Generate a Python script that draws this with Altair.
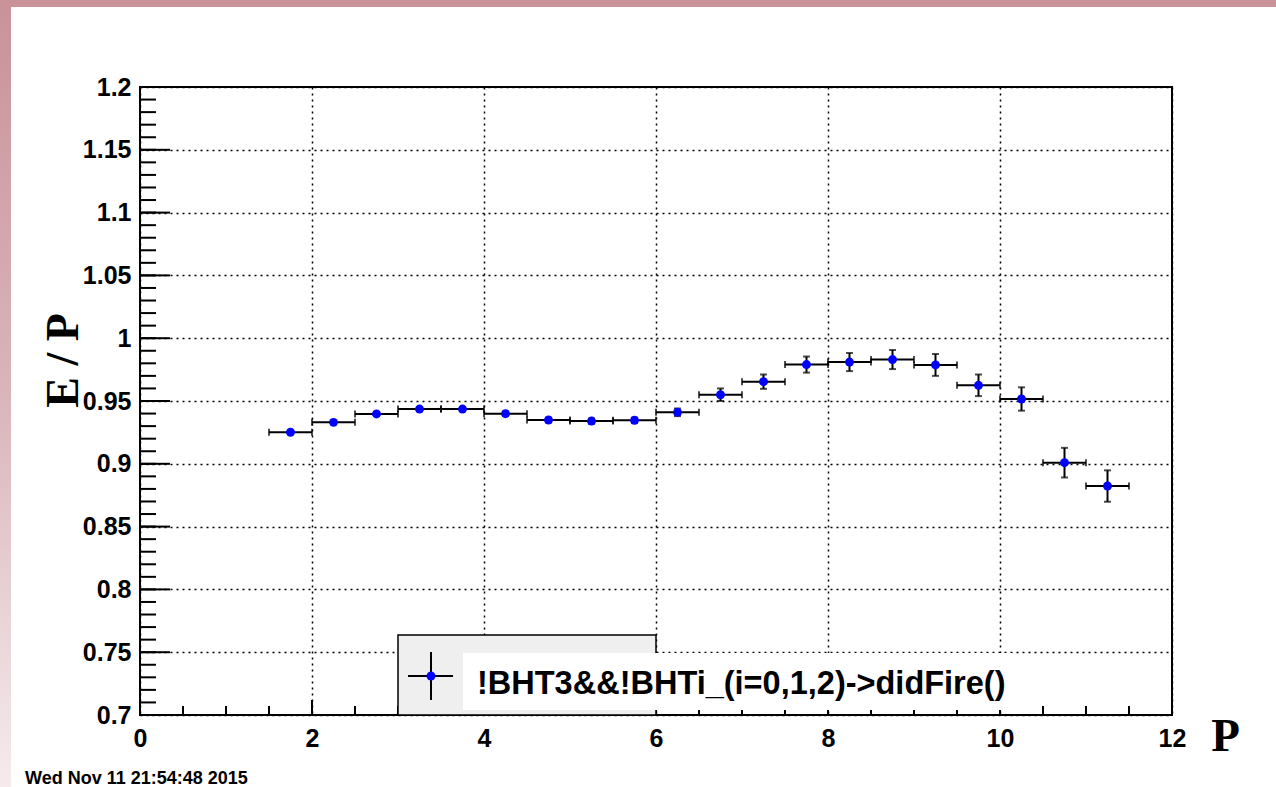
import altair as alt
import pandas as pd

# Bin centres of P (bins 0.5 wide) and the mean E/P in each bin
p_centers = [1.75, 2.25, 2.75, 3.25, 3.75, 4.25, 4.75, 5.25, 5.75, 6.25,
             6.75, 7.25, 7.75, 8.25, 8.75, 9.25, 9.75, 10.25, 10.75, 11.25]
ep_values = [0.9251, 0.9330, 0.9397, 0.9436, 0.9436, 0.9399, 0.9349, 0.9340, 0.9346, 0.9410,
             0.9550, 0.9654, 0.9790, 0.9810, 0.9830, 0.9787, 0.9625, 0.9516, 0.9009, 0.8823]
ep_errors = [0.0012, 0.0013, 0.0014, 0.0015, 0.0016, 0.0017, 0.0018, 0.0020, 0.0022, 0.0030,
             0.0050, 0.0057, 0.0064, 0.0072, 0.0076, 0.0087, 0.0086, 0.0093, 0.0118, 0.0125]
half_bin = 0.25

# Axis divisions
x_major = [0, 2, 4, 6, 8, 10, 12]
x_minor = [v / 2 for v in range(0, 25)]
y_major = [round(0.7 + 0.05 * i, 2) for i in range(11)]
y_minor = [round(0.7 + 0.01 * i, 2) for i in range(51)]

legend_label = "!BHT3&&!BHTi_(i=0,1,2)->didFire()"
timestamp = "Wed Nov 11 21:54:48 2015"

W, H = 1032, 628
SANS = "Liberation Sans"
SERIF = "Liberation Serif"

df = pd.DataFrame({
    "p": p_centers,
    "ep": ep_values,
    "plo": [p - half_bin for p in p_centers],
    "phi": [p + half_bin for p in p_centers],
    "eplo": [v - e for v, e in zip(ep_values, ep_errors)],
    "ephi": [v + e for v, e in zip(ep_values, ep_errors)],
})
one = pd.DataFrame({"k": [0]})

xs = alt.Scale(domain=[0, 12], nice=False, zero=False)
ys = alt.Scale(domain=[0.7, 1.2], nice=False, zero=False)

x_axis = alt.Axis(values=x_major, format="d", grid=True, gridDash=[2, 4], gridColor="black",
                  gridWidth=1.5, gridOpacity=1, ticks=False, domain=False, labelFont=SANS,
                  labelFontWeight="bold", labelFontSize=25, labelColor="black", labelPadding=11,
                  labelFlush=False, labelOverlap=False, title="P", titleFont=SERIF,
                  titleFontWeight="bold", titleFontSize=47, titleColor="black", titleX=1085,
                  titleY=35, titleAlign="center", titleBaseline="alphabetic")
y_axis = alt.Axis(values=y_major, grid=True, gridDash=[2, 4], gridColor="black", gridWidth=1.5,
                  gridOpacity=1, ticks=False, domain=False, labelFont=SANS, labelFontWeight="bold",
                  labelFontSize=25, labelColor="black", labelPadding=9, labelFlush=False,
                  labelOverlap=False, labelExpr="format(datum.value, '.2~f')",
                  title="E / P", titleFont=SERIF, titleFontWeight="bold", titleFontSize=46,
                  titleColor="black", titleAngle=270, titleX=-77, titleY=273,
                  titleAlign="center", titleBaseline="middle")

# Canvas decoration: pink frame band on top and a fading band on the left
left_band = alt.Chart(one).mark_rect(
    fill=alt.LinearGradient(gradient="linear", x1=0, y1=0, x2=0, y2=1,
                            stops=[alt.GradientStop(offset=0, color="#c9929a"),
                                   alt.GradientStop(offset=0.5, color="#d9b5ba"),
                                   alt.GradientStop(offset=1, color="#f5ebed")])
).encode(x=alt.value(-140), x2=alt.value(-129), y=alt.value(-87), y2=alt.value(700))
top_band = alt.Chart(one).mark_rect(fill="#ca939a").encode(
    x=alt.value(-140), x2=alt.value(W + 104), y=alt.value(-87), y2=alt.value(-80))

base = alt.Chart(df)

# Inward axis ticks
yt_major = alt.Chart(pd.DataFrame({"v": y_major})).mark_rule(color="black", strokeWidth=2).encode(
    y=alt.Y("v:Q", scale=ys, axis=y_axis), x=alt.value(0), x2=alt.value(30))
yt_minor = alt.Chart(pd.DataFrame({"v": y_minor})).mark_rule(color="black", strokeWidth=2).encode(
    y=alt.Y("v:Q", scale=ys), x=alt.value(0), x2=alt.value(16))
xt_major = alt.Chart(pd.DataFrame({"v": x_major})).mark_rule(color="black", strokeWidth=2).encode(
    x=alt.X("v:Q", scale=xs, axis=x_axis), y=alt.value(H), y2=alt.value(H - 15))
xt_minor = alt.Chart(pd.DataFrame({"v": x_minor})).mark_rule(color="black", strokeWidth=2).encode(
    x=alt.X("v:Q", scale=xs), y=alt.value(H), y2=alt.value(H - 9))

# Error bars with end caps
hbar = base.mark_rule(color="black", strokeWidth=2).encode(
    x=alt.X("plo:Q", scale=xs), x2="phi:Q", y=alt.Y("ep:Q", scale=ys))
hcap_l = base.mark_tick(color="black", orient="vertical", size=7, thickness=2).encode(
    x=alt.X("plo:Q", scale=xs), y=alt.Y("ep:Q", scale=ys))
hcap_r = base.mark_tick(color="black", orient="vertical", size=7, thickness=2).encode(
    x=alt.X("phi:Q", scale=xs), y=alt.Y("ep:Q", scale=ys))
vbar = base.mark_rule(color="black", strokeWidth=2).encode(
    x=alt.X("p:Q", scale=xs), y=alt.Y("eplo:Q", scale=ys), y2="ephi:Q")
vcap_lo = base.mark_tick(color="black", orient="horizontal", size=7, thickness=2).encode(
    x=alt.X("p:Q", scale=xs), y=alt.Y("eplo:Q", scale=ys))
vcap_hi = base.mark_tick(color="black", orient="horizontal", size=7, thickness=2).encode(
    x=alt.X("p:Q", scale=xs), y=alt.Y("ephi:Q", scale=ys))
points = base.mark_circle(color="#0000ff", size=80, opacity=1).encode(
    x=alt.X("p:Q", scale=xs), y=alt.Y("ep:Q", scale=ys))

# Legend box
leg_box = alt.Chart(one).mark_rect(fill="#efefef", stroke="black", strokeWidth=1.5).encode(
    x=alt.value(258), x2=alt.value(516), y=alt.value(548), y2=alt.value(H))
leg_textbg = alt.Chart(one).mark_rect(fill="white").encode(
    x=alt.value(323), x2=alt.value(872), y=alt.value(566), y2=alt.value(623))
leg_h = alt.Chart(one).mark_rule(color="black", strokeWidth=2).encode(
    x=alt.value(268), x2=alt.value(313), y=alt.value(589))
leg_v = alt.Chart(one).mark_rule(color="black", strokeWidth=2).encode(
    x=alt.value(291), y=alt.value(565), y2=alt.value(613))
leg_dot = alt.Chart(one).mark_circle(color="#0000ff", size=80, opacity=1).encode(
    x=alt.value(291), y=alt.value(589))
leg_text = alt.Chart(one).mark_text(text=legend_label, font=SANS, fontWeight="bold", fontSize=32.5,
                                    align="left", baseline="alphabetic", color="black").encode(
    x=alt.value(337), y=alt.value(607))

stamp = alt.Chart(one).mark_text(text=timestamp, font=SANS, fontWeight="bold", fontSize=18,
                                 align="left", baseline="alphabetic", color="black").encode(
    x=alt.value(-115), y=alt.value(697))

chart = alt.layer(
    left_band, top_band,
    xt_major, xt_minor, yt_major, yt_minor,
    hbar, hcap_l, hcap_r, vbar, vcap_lo, vcap_hi, points,
    leg_box, leg_textbg, leg_h, leg_v, leg_dot, leg_text,
    stamp,
).properties(
    width=W, height=H,
    autosize=alt.AutoSizeParams(type="none"),
    padding={"left": 140, "top": 87, "right": 104, "bottom": 72},
    background="white",
).configure_view(stroke="black", strokeWidth=2)

chart.save("out.html", embed_options={"renderer": "svg", "actions": False})
